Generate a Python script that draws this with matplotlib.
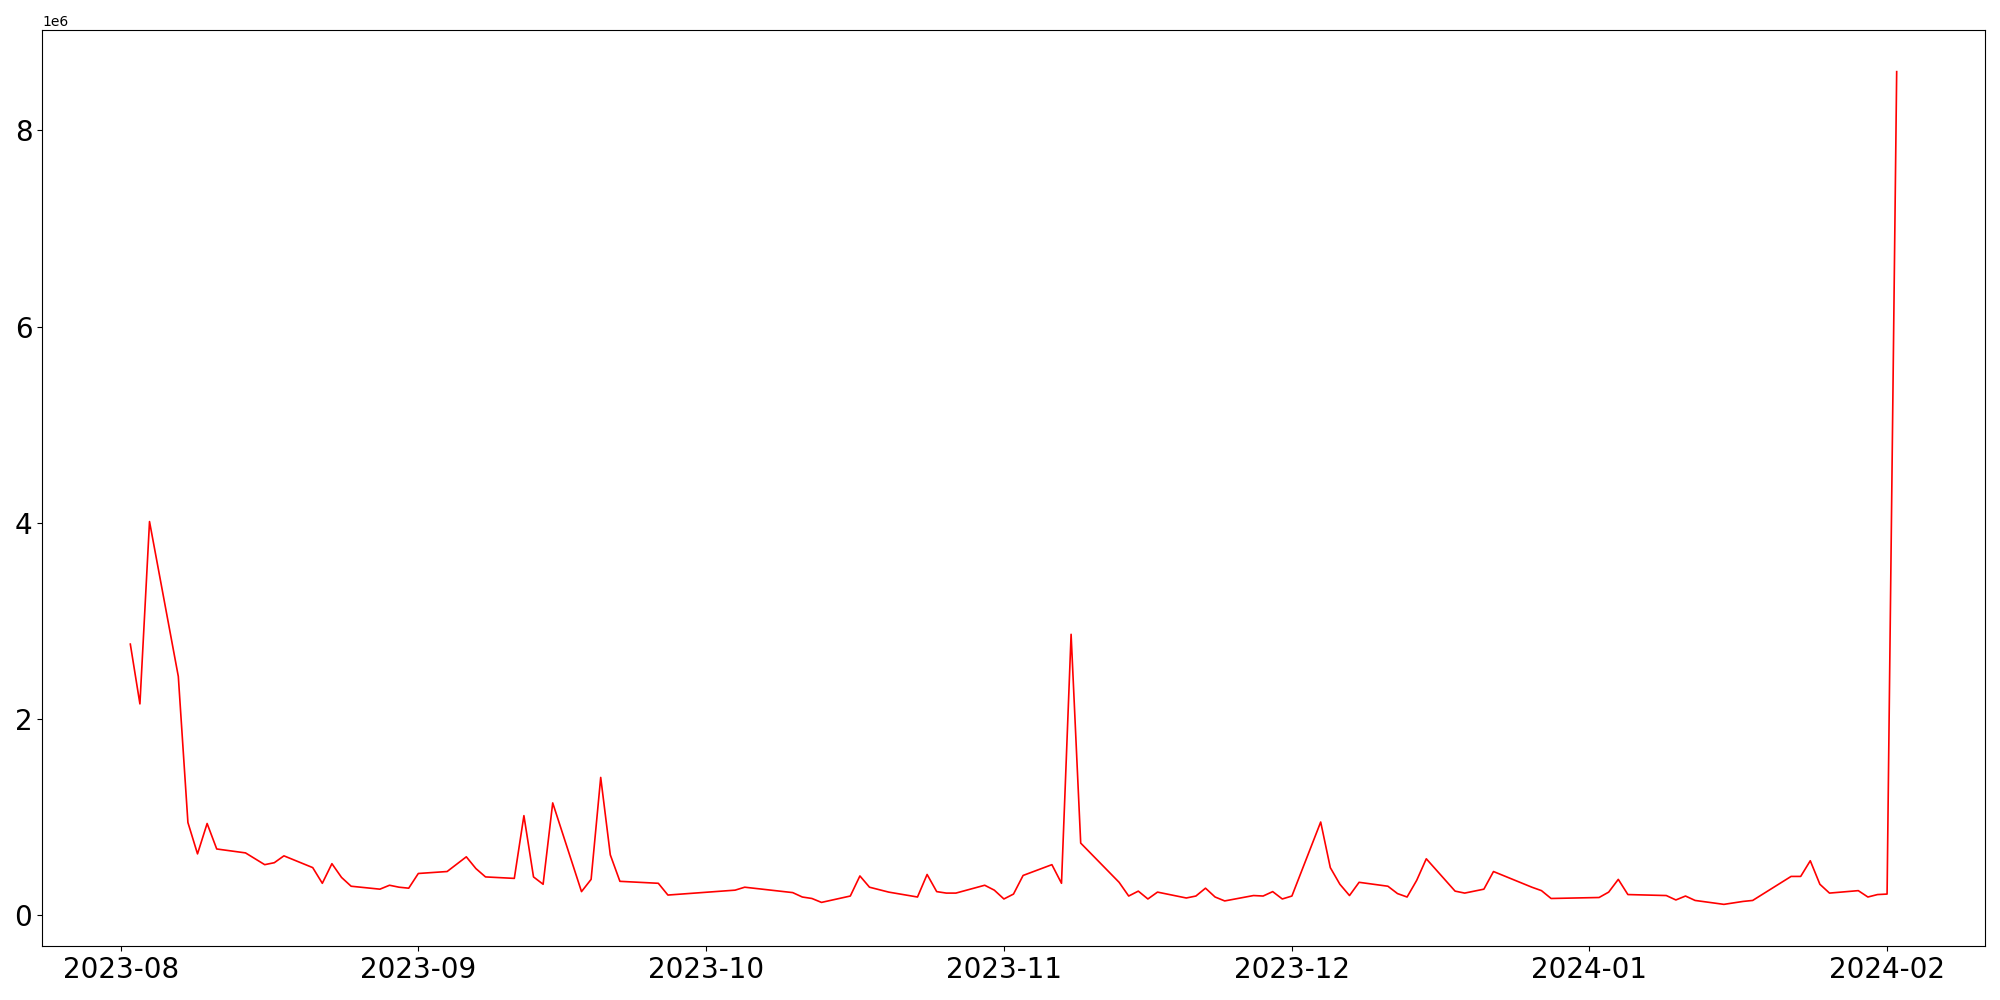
import pandas as pd
import matplotlib.pyplot as plt

# daily values (weekdays, some gaps)
dates = [
    "2023-08-02", "2023-08-03", "2023-08-04", "2023-08-07", "2023-08-08", "2023-08-09",
    "2023-08-10", "2023-08-11", "2023-08-14", "2023-08-16", "2023-08-17", "2023-08-18",
    "2023-08-21", "2023-08-22", "2023-08-23", "2023-08-24", "2023-08-25", "2023-08-28",
    "2023-08-29", "2023-08-30", "2023-08-31", "2023-09-01", "2023-09-04", "2023-09-06",
    "2023-09-07", "2023-09-08", "2023-09-11", "2023-09-12", "2023-09-13", "2023-09-14",
    "2023-09-15", "2023-09-18", "2023-09-19", "2023-09-20", "2023-09-21", "2023-09-22",
    "2023-09-26", "2023-09-27", "2023-10-04", "2023-10-05", "2023-10-10", "2023-10-11",
    "2023-10-12", "2023-10-13", "2023-10-16", "2023-10-17", "2023-10-18", "2023-10-20",
    "2023-10-23", "2023-10-24", "2023-10-25", "2023-10-26", "2023-10-27", "2023-10-30",
    "2023-10-31", "2023-11-01", "2023-11-02", "2023-11-03", "2023-11-06", "2023-11-07",
    "2023-11-08", "2023-11-09", "2023-11-10", "2023-11-13", "2023-11-14", "2023-11-15",
    "2023-11-16", "2023-11-17", "2023-11-20", "2023-11-21", "2023-11-22", "2023-11-23",
    "2023-11-24", "2023-11-27", "2023-11-28", "2023-11-29", "2023-11-30", "2023-12-01",
    "2023-12-04", "2023-12-05", "2023-12-06", "2023-12-07", "2023-12-08", "2023-12-11",
    "2023-12-12", "2023-12-13", "2023-12-14", "2023-12-15", "2023-12-18", "2023-12-19",
    "2023-12-21", "2023-12-22", "2023-12-26", "2023-12-27", "2023-12-28", "2024-01-02",
    "2024-01-03", "2024-01-04", "2024-01-05", "2024-01-09", "2024-01-10", "2024-01-11",
    "2024-01-12", "2024-01-15", "2024-01-17", "2024-01-18", "2024-01-22", "2024-01-23",
    "2024-01-24", "2024-01-25", "2024-01-26", "2024-01-29", "2024-01-30", "2024-01-31",
    "2024-02-01", "2024-02-02",
]

# values in millions
values_m = [
    2.76, 2.15, 4.01, 2.43, 0.94, 0.62,
    0.93, 0.67, 0.63, 0.51, 0.53, 0.60,
    0.48, 0.32, 0.52, 0.38, 0.29, 0.26,
    0.30, 0.28, 0.27, 0.42, 0.44, 0.59,
    0.47, 0.385, 0.37, 1.01, 0.385, 0.31,
    1.14, 0.235, 0.36, 1.40, 0.61, 0.34,
    0.32, 0.20, 0.25, 0.28, 0.225, 0.18,
    0.165, 0.125, 0.19, 0.395, 0.28, 0.23,
    0.18, 0.41, 0.235, 0.22, 0.22, 0.30,
    0.25, 0.16, 0.21, 0.40, 0.51, 0.32,
    2.86, 0.73, 0.63, 0.33, 0.19, 0.24,
    0.16, 0.23, 0.17, 0.19, 0.27, 0.18,
    0.14, 0.195, 0.19, 0.235, 0.16, 0.19,
    0.945, 0.48, 0.31, 0.195, 0.33, 0.29,
    0.215, 0.18, 0.35, 0.57, 0.24, 0.22,
    0.26, 0.44, 0.28, 0.245, 0.165, 0.175,
    0.23, 0.36, 0.205, 0.195, 0.15, 0.19,
    0.145, 0.105, 0.135, 0.145, 0.39, 0.39,
    0.55, 0.31, 0.22, 0.245, 0.18, 0.205,
    0.21, 8.60,
]

df = pd.DataFrame({"date": pd.to_datetime(dates), "value": [v * 1e6 for v in values_m]})

fig, ax = plt.subplots(figsize=(20, 10), dpi=100)
ax.plot(df["date"], df["value"], color="red", linewidth=1.2)
ax.tick_params(axis="both", labelsize=20)
plt.subplots_adjust(left=0.021, right=0.9925, top=0.97, bottom=0.054)
plt.savefig("out.png")
